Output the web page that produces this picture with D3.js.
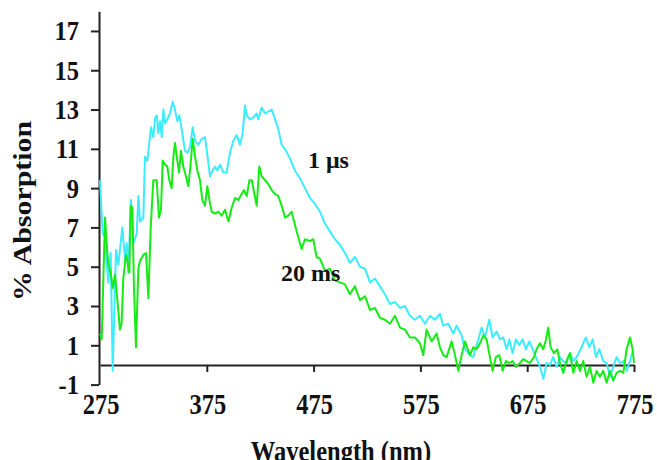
<!DOCTYPE html>
<html>
<head>
<meta charset="utf-8">
<script src="https://cdn.jsdelivr.net/npm/d3@7"></script>
<style>
html,body{margin:0;padding:0;background:#fff;}
svg{display:block;}
text{font-family:"Liberation Serif","Times New Roman",serif;font-weight:bold;fill:#111;}
</style>
</head>
<body>
<svg id="chart" width="657" height="460"></svg>
<script>
// ---- data ----
const xTicks = [275, 375, 475, 575, 675, 775];
const yTicks = [-1, 1, 3, 5, 7, 9, 11, 13, 15, 17];
const seriesNames = ["1 \u03bcs", "20 ms"];

const cyanNm = [275.0,277.5,279.7,281.2,282.8,285.0,286.9,290.0,292.2,295.9,298.4,300.0,301.5,304.0,306.2,309.4,310.9,312.5,315.6,317.1,319.3,321.2,322.8,324.9,326.5,328.1,329.6,331.2,332.8,334.3,335.9,338.0,340.5,343.1,345.2,347.4,349.3,351.5,354.6,356.8,359.3,361.8,364.0,367.0,370.2,373.3,375.5,378.0,380.5,382.7,384.8,387.4,390.5,393.6,396.7,399.8,403.0,406.1,408.6,410.8,412.4,415.4,418.6,421.7,423.2,426.4,429.5,432.6,435.8,438.9,442.0,445.1,448.2,452.9,457.5,462.2,466.9,471.6,476.3,481.0,485.6,490.3,495.0,499.7,504.4,509.0,513.7,518.4,523.1,527.8,532.5,537.1,541.8,546.5,551.2,555.9,560.5,565.2,569.9,574.6,579.3,584.0,588.6,593.3,596.4,601.1,605.8,608.9,613.6,616.7,621.4,624.5,629.2,632.3,635.4,639.5,642.6,646.4,649.5,652.6,655.7,658.2,661.3,664.5,667.6,670.7,673.8,677.0,680.1,683.2,687.0,690.1,693.2,696.3,699.4,702.6,705.7,708.8,711.9,715.0,718.2,721.3,725.9,730.0,733.1,736.3,739.4,742.5,746.2,749.4,752.5,755.6,758.7,761.9,765.0,768.1,771.2,774.3];
const cyanAbs = [9.4,6.7,6.5,5.2,4.2,5.7,-0.3,5.85,5.1,7.0,5.4,6.2,4.7,8.4,6.2,6.7,8.6,7.3,7.5,10.6,10.4,11.3,12.1,11.6,12.55,12.7,11.8,12.4,11.6,13.0,12.3,12.5,12.8,13.4,13.0,12.4,12.7,12.0,10.9,10.8,11.1,12.1,11.4,11.2,11.5,11.6,10.7,9.6,9.9,10.1,9.9,10.2,9.8,9.8,10.8,11.4,11.7,11.2,11.8,13.2,12.7,12.5,12.6,12.8,12.5,13.1,12.8,12.9,13.0,12.5,12.0,11.2,11.0,10.5,9.9,9.5,9.0,8.5,8.2,7.8,7.2,6.8,6.4,6.1,5.7,5.2,5.5,5.0,4.9,4.2,4.4,4.0,3.6,3.1,3.2,2.9,3.0,2.5,2.3,2.5,2.1,2.5,2.3,2.6,2.0,2.1,1.6,2.0,1.5,0.8,0.5,0.4,1.3,1.9,1.4,2.3,1.4,1.7,1.3,1.4,0.8,1.3,0.6,1.3,1.0,1.3,0.8,1.2,0.8,0.4,-0.1,-0.7,0.1,0.0,0.4,-0.1,0.4,0.2,0.1,0.6,0.2,0.4,0.9,1.4,0.9,1.3,0.4,0.8,0.2,0.1,-0.6,-0.1,0.4,0.1,0.2,-0.3,0.2,0.8];

const greenNm = [275.0,276.6,279.7,281.2,282.8,285.0,286.9,289.1,293.7,295.2,296.8,299.3,300.9,302.5,303.7,305.3,306.8,308.7,310.9,312.5,315.6,318.1,320.3,322.4,324.9,328.1,330.2,332.1,333.7,335.9,338.0,339.9,342.1,343.7,345.2,347.4,349.0,350.8,353.0,355.5,357.7,359.3,361.8,364.0,366.1,368.6,370.8,373.3,375.5,377.4,379.6,382.7,385.8,388.9,392.1,395.2,398.3,401.4,404.5,407.6,409.8,412.4,414.9,417.1,419.2,421.7,424.2,426.4,429.5,432.6,435.8,438.9,442.0,445.1,448.2,451.3,454.4,459.1,463.8,466.9,471.6,474.7,477.8,481.0,485.6,490.3,495.0,499.7,504.4,509.0,513.7,518.4,523.1,527.8,532.5,537.1,541.8,546.5,551.2,555.9,560.5,565.2,569.9,574.6,577.7,580.8,585.5,590.2,593.3,596.4,599.6,604.2,607.4,610.5,613.6,616.7,621.4,624.5,627.6,630.8,633.9,637.0,640.1,642.6,645.7,648.9,652.0,655.1,658.2,661.3,664.5,668.2,671.3,674.5,677.6,681.3,683.8,686.9,690.1,692.6,694.7,696.9,700.1,703.2,705.7,708.8,711.9,715.0,718.2,721.3,724.4,727.5,730.6,733.8,736.9,740.0,743.1,746.2,749.4,752.5,755.6,758.7,761.9,765.0,768.1,771.2,773.7,775.0];
const greenAbs = [1.6,1.3,7.5,6.2,5.1,4.7,3.9,4.6,1.8,2.1,4.4,5.6,5.2,4.7,8.1,8.0,3.9,0.9,4.9,5.3,5.6,5.7,3.4,6.9,9.4,9.4,7.5,7.9,10.4,10.2,10.1,9.4,9.0,10.6,11.3,10.4,9.8,10.9,10.1,9.6,9.1,9.9,11.5,10.6,9.9,9.4,8.4,8.1,9.1,8.4,7.8,7.7,7.8,7.6,7.9,7.3,8.0,8.5,8.4,8.7,8.9,8.6,9.4,9.4,8.8,8.1,10.1,9.6,9.4,9.2,8.9,8.7,8.6,8.1,7.5,7.6,7.8,6.8,5.9,6.4,6.3,6.4,5.5,5.4,4.8,4.9,4.3,4.2,4.1,3.6,4.0,3.3,3.5,2.8,2.9,2.4,2.3,2.1,2.5,1.9,1.8,1.4,1.4,1.1,0.5,1.8,1.2,1.6,0.9,0.5,0.4,1.2,0.5,-0.3,0.5,1.2,0.5,0.9,0.8,1.1,1.5,1.3,0.4,-0.3,0.4,0.5,-0.3,0.2,0.1,0.2,-0.1,0.1,0.3,0.2,0.1,0.4,0.8,1.1,0.8,1.3,1.9,0.9,0.6,0.8,0.1,-0.4,0.2,0.6,-0.4,0.2,-0.3,0.2,-0.6,-0.1,-0.9,-0.3,-0.6,-0.3,-0.9,-0.3,-0.8,-0.4,-0.3,-0.4,0.8,1.4,0.8,0.1];

const colors = ["#3cecff", "#14ec14"];

// ---- drawing ----
const svg = d3.select("#chart");
const x = d3.scaleLinear().domain([275, 775]).range([100, 634]);
const y = d3.scaleLinear().domain([-1, 18]).range([384.6, 11.3]);

const line = d3.line().x(d => x(d[0])).y(d => y(d[1]));

// x axis along value 0
const xAxis = svg.append("g")
  .attr("transform", `translate(0,${y(0)})`)
  .call(d3.axisBottom(x).tickValues(xTicks.slice(1)).tickSize(7).tickSizeOuter(0).tickFormat(""));
xAxis.select(".domain").attr("stroke", "#222").attr("stroke-width", 2);
xAxis.selectAll(".tick line").attr("stroke", "#222").attr("stroke-width", 2);

// y axis
const yAxis = svg.append("g")
  .attr("transform", `translate(99,0)`)
  .call(d3.axisLeft(y).tickValues(yTicks).tickSize(8).tickSizeOuter(0).tickFormat(""));
yAxis.select(".domain").attr("stroke", "#222").attr("stroke-width", 2);
yAxis.selectAll(".tick line").attr("stroke", "#222").attr("stroke-width", 2);

// series
const cyanData = cyanNm.map((d, i) => [d, cyanAbs[i]]);
const greenData = greenNm.map((d, i) => [d, greenAbs[i]]);
[cyanData, greenData].forEach((data, i) => {
  svg.append("path").datum(data)
    .attr("fill", "none")
    .attr("stroke", colors[i])
    .attr("stroke-width", 2)
    .attr("stroke-linejoin", "round")
    .attr("d", line);
});

// y tick labels
svg.append("g").selectAll("text").data(yTicks).join("text")
  .attr("transform", d => `translate(79,${y(d)}) scale(1,1.1)`)
  .attr("dy", "0.35em")
  .attr("text-anchor", "end").attr("font-size", 24.5)
  .text(d => d);

// x tick labels
svg.append("g").selectAll("text").data(xTicks).join("text")
  .attr("transform", d => `translate(${x(d) + 1},414) scale(1,1.2)`)
  .attr("text-anchor", "middle").attr("font-size", 24.5)
  .text(d => d);

// axis titles
svg.append("text").attr("transform", "translate(341,461) scale(1,1.2)")
  .attr("text-anchor", "middle").attr("font-size", 24.5)
  .text("Wavelength (nm)");
svg.append("text")
  .attr("transform", "translate(31,211) scale(1,1.22) rotate(-90)")
  .attr("text-anchor", "middle").attr("font-size", 24.5)
  .text("% Absorption");

// series labels
svg.append("text").attr("x", 308).attr("y", 168).attr("font-size", 24).text(seriesNames[0]);
svg.append("text").attr("x", 281).attr("y", 281).attr("font-size", 24).text(seriesNames[1]);
</script>
</body>
</html>
